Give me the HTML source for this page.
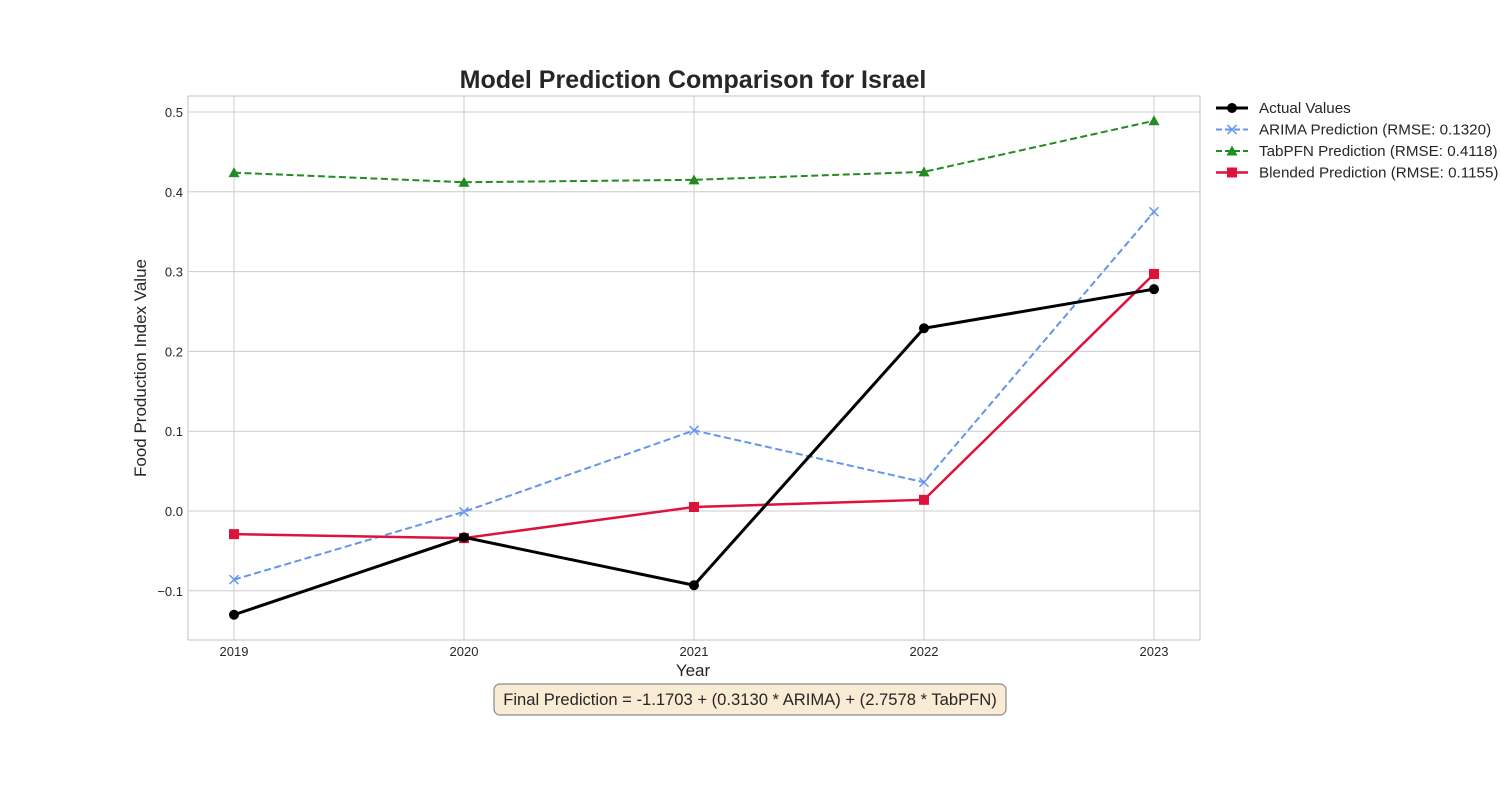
<!DOCTYPE html>
<html><head><meta charset="utf-8"><style>
body{margin:0;background:#fff;font-family:"Liberation Sans",sans-serif;}
svg text{font-family:"Liberation Sans",sans-serif;}
</style></head><body>
<svg id="chart" width="1500" height="800" xmlns="http://www.w3.org/2000/svg">
<text x="693" y="88" text-anchor="middle" font-size="25" font-weight="bold" fill="#262626">Model Prediction Comparison for Israel</text>
<g id="grid"></g>
<rect x="188" y="96" width="1012" height="544" fill="none" stroke="#cccccc" stroke-width="1.2"/>
<g id="series"></g>
<text x="693" y="676" text-anchor="middle" font-size="17" fill="#262626">Year</text>
<text transform="translate(146,368) rotate(-90)" text-anchor="middle" font-size="17" fill="#262626">Food Production Index Value</text>
<g id="legend"></g>
<g>
<rect x="494" y="684" width="512" height="31" rx="6" fill="#f9ebd4" stroke="#8a8a8a" stroke-width="1.2"/>
<text x="750" y="705" text-anchor="middle" font-size="16.6" fill="#262626">Final Prediction = -1.1703 + (0.3130 * ARIMA) + (2.7578 * TabPFN)</text>
</g>
</svg>
<script>
const years=[2019,2020,2021,2022,2023];
const actual=[-0.130,-0.033,-0.093,0.229,0.278];
const arima=[-0.086,-0.001,0.101,0.036,0.375];
const tabpfn=[0.424,0.412,0.415,0.425,0.489];
const blended=[-0.029,-0.034,0.005,0.014,0.297];
const yTicks=[-0.1,0.0,0.1,0.2,0.3,0.4,0.5];
const yTickLabels=["\u22120.1","0.0","0.1","0.2","0.3","0.4","0.5"];
const legendLabels=["Actual Values","ARIMA Prediction (RMSE: 0.1320)","TabPFN Prediction (RMSE: 0.4118)","Blended Prediction (RMSE: 0.1155)"];

const NS="http://www.w3.org/2000/svg";
const X=v=>234+(v-2019)*230;
const Y=v=>511-v*798;
function mk(tag,attrs,parent){const e=document.createElementNS(NS,tag);for(const k in attrs)e.setAttribute(k,attrs[k]);parent.appendChild(e);return e;}
const grid=document.getElementById('grid');
years.forEach(yr=>{
  const l=mk('line',{x1:X(yr),x2:X(yr),y1:96,y2:640,stroke:'#cccccc','stroke-width':1},grid);
  
  
  const t=mk('text',{x:X(yr),y:656,'text-anchor':'middle','font-size':13,fill:'#262626'},grid);
  t.textContent=yr;
  
  
});
yTicks.forEach((v,i)=>{
  const l=mk('line',{x1:188,x2:1200,y1:Y(v),y2:Y(v),stroke:'#cccccc','stroke-width':1},grid);
  
  
  const t=mk('text',{x:183,y:Y(v)+5,'text-anchor':'end','font-size':13,fill:'#262626'},grid);
  t.textContent=yTickLabels[i];
  
  
});
function marker(g,type,x,y,color){
  let m;
  if(type==='o')m=mk('circle',{cx:x,cy:y,r:5,fill:color},g);
  else if(type==='s')m=mk('rect',{x:x-5,y:y-5,width:10,height:10,fill:color},g);
  else if(type==='^')m=mk('polygon',{points:`${x},${y-5.5} ${x-5.5},${y+4.5} ${x+5.5},${y+4.5}`,fill:color},g);
  else m=mk('path',{d:`M${x-4.5},${y-4.5}L${x+4.5},${y+4.5}M${x-4.5},${y+4.5}L${x+4.5},${y-4.5}`,stroke:color,'stroke-width':1.5},g);
  return m;
}
const defs=[
 {data:tabpfn,color:'#228b22',w:2,dash:'7,3.5',m:'^',name:'tabpfn'},
 {data:arima,color:'#6495ed',w:2,dash:'7,3.5',m:'x',name:'arima'},
 {data:blended,color:'#dc143c',w:2.5,dash:'',m:'s',name:'blended'},
 {data:actual,color:'#000000',w:3,dash:'',m:'o',name:'actual'}
];
const sg=document.getElementById('series');
defs.forEach(s=>{
  const g=mk('g',{},sg);
  
  
  const p=mk('polyline',{points:s.data.map((v,i)=>X(years[i])+','+Y(v)).join(' '),fill:'none',stroke:s.color,'stroke-width':s.w,'stroke-dasharray':s.dash},g);
  
  
  s.data.forEach((v,i)=>{
    const m=marker(g,s.m,X(years[i]),Y(v),s.color);
    
    
  });
});
const lg=document.getElementById('legend');
const lorder=[defs[3],defs[1],defs[0],defs[2]];
lorder.forEach((s,i)=>{
  const y=108+i*21.5;
  const g=mk('g',{},lg);
  
  
  mk('line',{x1:1216,x2:1248,y1:y,y2:y,stroke:s.color,'stroke-width':s.w,'stroke-dasharray':s.dash?'6,3':''},g);
  marker(g,s.m,1232,y,s.color);
  const t=mk('text',{x:1259,y:y+5,'font-size':15.2,fill:'#262626'},g);
  t.textContent=legendLabels[i];
});
</script>
</body></html>
